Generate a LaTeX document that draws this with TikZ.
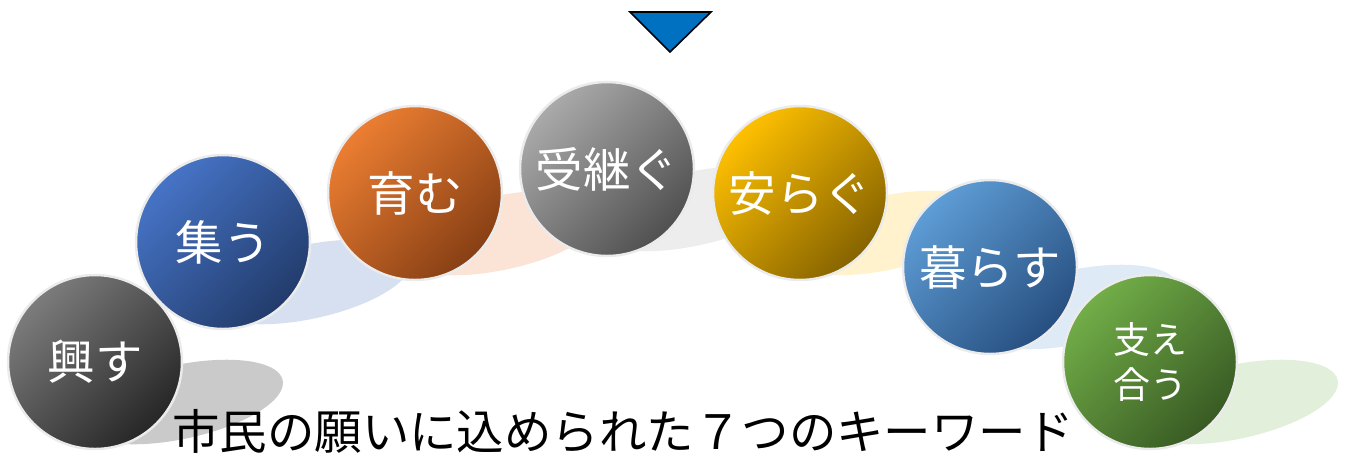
\documentclass[tikz,border=0pt]{standalone}
\usepackage{fontspec}
\newfontfamily\cjk{Noto Sans CJK JP}
\definecolor{triblue}{HTML}{0070C0}
\definecolor{ringc}{HTML}{EBEBEB}
\definecolor{aT}{HTML}{7C7C7C}\definecolor{aB}{HTML}{262626}\definecolor{aS}{HTML}{CACACA}
\definecolor{bT}{HTML}{4674C6}\definecolor{bB}{HTML}{223B6B}\definecolor{bS}{HTML}{D7E0F0}
\definecolor{cT}{HTML}{EC7E32}\definecolor{cB}{HTML}{873F14}\definecolor{cS}{HTML}{FBE4D6}
\definecolor{dT}{HTML}{AAAAAA}\definecolor{dB}{HTML}{505050}\definecolor{dS}{HTML}{EDEDED}
\definecolor{eT}{HTML}{FFC000}\definecolor{eB}{HTML}{856300}\definecolor{eS}{HTML}{FFF2CC}
\definecolor{fT}{HTML}{5E9DD6}\definecolor{fB}{HTML}{274F80}\definecolor{fS}{HTML}{DEEAF6}
\definecolor{gT}{HTML}{72AE48}\definecolor{gB}{HTML}{385A23}\definecolor{gS}{HTML}{E2EFDA}
\tikzset{
  ball/.style 2 args={circle, minimum size=3.48cm, inner sep=0pt, draw=ringc, line width=1.4pt,
    shading=axis, top color=#1, bottom color=#2, shading angle=45, text=white,
    font=\cjk\fontsize{27}{28}\selectfont, align=center},
}
\begin{document}
\begin{tikzpicture}[x=0.02cm,y=-0.02cm]
\useasboundingbox (0,0) rectangle (1348,457);
% shadows
\foreach \cx/\cy/\col in {95/362/aS, 223/242/bS, 415/193/cS, 607/169/dS, 800/193/eS, 990/267/fS, 1150/362/gS}{
  \fill[\col, shift={(\cx+85,\cy+40)}, rotate=12] (0,0) ellipse [x radius=105, y radius=37];
}
% circles
\node[ball={aT}{aB}] (okosu) at (95,362) {興す};
\node[ball={bT}{bB}] (tsudou) at (223,242) {集う};
\node[ball={cT}{cB}] (hagukumu) at (415,193) {育む};
\node[ball={dT}{dB}] (uketsugu) at (607,169) {受継ぐ};
\node[ball={eT}{eB}] (yasuragu) at (800,193) {安らぐ};
\node[ball={fT}{fB}] (kurasu) at (990,267) {暮らす};
\node[ball={gT}{gB}, font=\cjk\fontsize{21}{26}\selectfont] (sasaeau) at (1150,362) {支え\\合う};
% triangle
\coordinate (tl) at (630,12);
\coordinate (tr) at (711,12);
\coordinate (tb) at (670,52);
\filldraw[fill=triblue, draw=black, line width=0.9pt, line join=miter] (tl) -- (tr) -- (tb) -- cycle;
% title
\node[font=\cjk\fontsize{27}{30}\selectfont, text=black, inner sep=0pt] (title) at (623,431) {市民の願いに込められた７つのキーワード};
\end{tikzpicture}
\end{document}
